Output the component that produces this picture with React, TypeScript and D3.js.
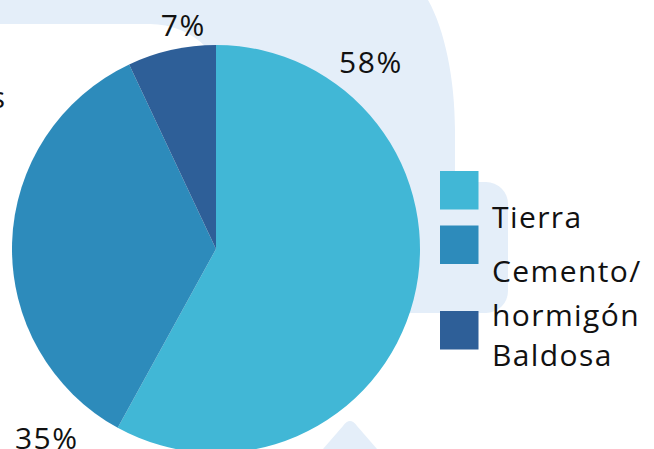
import React from "react";
import * as d3 from "d3";

const categories = ["Tierra", "Cemento/ hormigón", "Baldosa"];
const values = [58, 35, 7];
const percentLabels = ["58%", "35%", "7%"];
const legendLines = [["Tierra"], ["Cemento/", "hormigón"], ["Baldosa"]];
const colors = ["#41B7D6", "#2D8BBB", "#2E5F98"];

const W = 654;
const H = 449;
const CX = 216;
const CY = 249;
const R = 204;
// label placement (angle in degrees clockwise from top, radius from centre)
const labelAngle = [39.6, 222, 351.7];
const labelRadius = [243, 253, 227];
const FONT = "'Open Sans', sans-serif";
const BG = "#E4EEF9";

export default function App() {
  const pie = d3.pie<number>().sort(null).value((d) => d);
  const arcs = pie(values);
  const arc = d3.arc<d3.PieArcDatum<number>>().innerRadius(0).outerRadius(R);

  const legendSquareY = [171, 225.5, 311];
  const legendBaseline = [228, 282, 366];
  const lineGap = 44;

  return (
    <svg
      width={W}
      height={H}
      style={{ position: "fixed", left: 0, top: 0, background: "#fff" }}
      fontFamily={FONT}
    >
      {/* decorative background */}
      <path
        d="M0,0 H428 C445,30 455,80 455,130 V313 H230 V104 A80,80 0 0 0 150,24 H0 Z"
        fill={BG}
      />
      <rect x={380} y={182} width={128} height={131} rx={22} fill={BG} />
      <path d="M323,449 L343,426 Q350,416 357,426 L377,449 Z" fill={BG} />

      <g transform={`translate(${CX},${CY})`}>
        {arcs.map((a, i) => (
          <path key={categories[i]} d={arc(a) || ""} fill={colors[i]} />
        ))}
        {arcs.map((a, i) => {
          const [x, y] = d3.pointRadial((labelAngle[i] * Math.PI) / 180, labelRadius[i]);
          return (
            <text
              key={"l" + i}
              x={x}
              y={y}
              textAnchor="middle"
              dominantBaseline="central"
              fontSize={30}
              letterSpacing={1.5}
              fill="#111"
            >
              {percentLabels[i]}
            </text>
          );
        })}
      </g>

      <text x={5} y={108} textAnchor="end" fontSize={30} fill="#111">
        s
      </text>

      {categories.map((c, i) => (
        <g key={"lg" + c}>
          <rect x={440} y={legendSquareY[i]} width={38.5} height={38.5} fill={colors[i]} />
          {legendLines[i].map((ln, j) => (
            <text
              key={ln}
              x={492}
              y={legendBaseline[i] + j * lineGap}
              fontSize={30}
              letterSpacing={1.4}
              fill="#111"
            >
              {ln}
            </text>
          ))}
        </g>
      ))}
    </svg>
  );
}
